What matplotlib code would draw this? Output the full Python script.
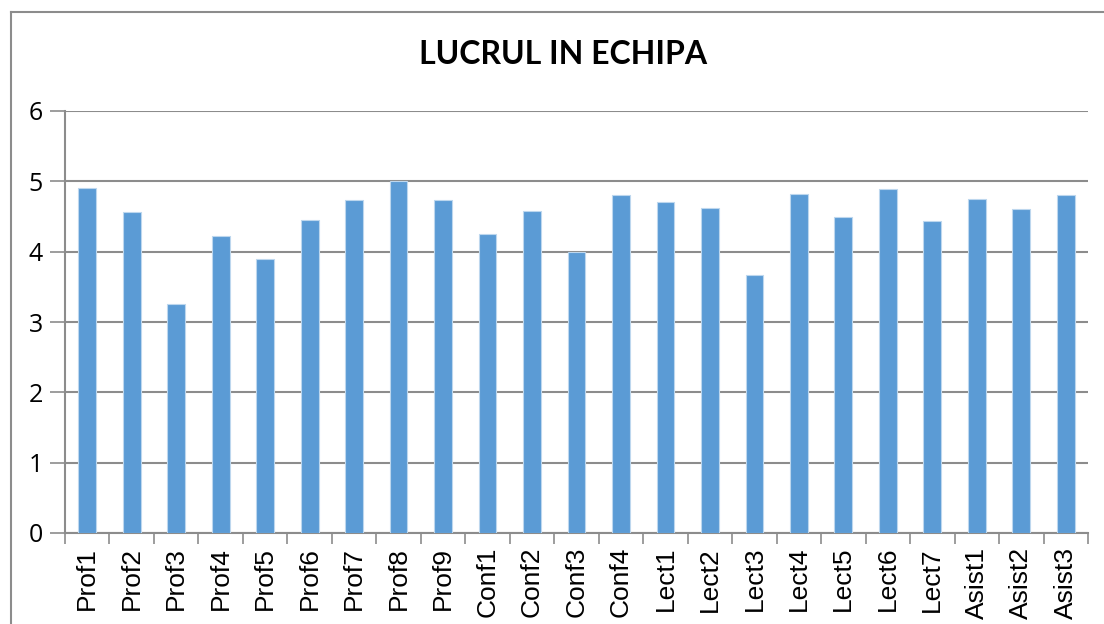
import numpy as np
import matplotlib.pyplot as plt
from matplotlib.lines import Line2D

# Categorii si valori
categorii = ['Prof1', 'Prof2', 'Prof3', 'Prof4', 'Prof5', 'Prof6', 'Prof7', 'Prof8', 'Prof9',
             'Conf1', 'Conf2', 'Conf3', 'Conf4',
             'Lect1', 'Lect2', 'Lect3', 'Lect4', 'Lect5', 'Lect6', 'Lect7',
             'Asist1', 'Asist2', 'Asist3']
valori = [4.9, 4.57, 3.25, 4.22, 3.9, 4.45, 4.73, 5.0, 4.73,
          4.25, 4.58, 4.0, 4.8,
          4.7, 4.62, 3.67, 4.82, 4.5, 4.89, 4.44,
          4.75, 4.6, 4.8]
y_ticks = [0, 1, 2, 3, 4, 5, 6]
titlu = 'LUCRUL IN ECHIPA'

W, H = 1104, 624
fig = plt.figure(figsize=(W / 100, H / 100), dpi=100)
ax = fig.add_axes([65 / W, 1 - 533 / H, (1088 - 65) / W, (533 - 111) / H])

x = np.arange(len(categorii))
ax.bar(x, valori, width=0.4, color='#5B9BD5', edgecolor='#BDD7EE', linewidth=0.8, zorder=3)

ax.set_xlim(-0.5, len(categorii) - 0.5)
ax.set_ylim(0, 6)
ax.set_yticks(y_ticks)
ax.yaxis.grid(True, color='#8C8C8C', linewidth=1.5, zorder=0)
ax.set_axisbelow(True)

ax.set_xticks(x)
ax.set_xticklabels(categorii, rotation=90, fontsize=19, family='Liberation Sans')
ax.tick_params(axis='x', which='major', length=0, pad=10)
ax.set_xticks(np.arange(-0.5, len(categorii), 1), minor=True)
ax.tick_params(axis='x', which='minor', length=8, width=1.2, color='#8C8C8C')
ax.tick_params(axis='y', length=11, width=1.2, color='#8C8C8C', pad=5)
for lbl in ax.get_yticklabels():
    lbl.set_fontsize(18)
    lbl.set_family('Open Sans')

for s in ['top', 'right']:
    ax.spines[s].set_visible(False)
for s in ['left', 'bottom']:
    ax.spines[s].set_color('#8C8C8C')
    ax.spines[s].set_linewidth(1.5)

fig.text(563.5 / W, 1 - 55 / H, titlu, ha='center', va='center',
         fontsize=23, fontweight='bold', family='Lato')

# chenarul graficului
fig.add_artist(Line2D([10.5 / W, 10.5 / W], [0, 1 - 11.5 / H], transform=fig.transFigure,
                      color='#8C8C8C', linewidth=1.5))
fig.add_artist(Line2D([10.5 / W, 1], [1 - 11.5 / H, 1 - 11.5 / H], transform=fig.transFigure,
                      color='#8C8C8C', linewidth=1.5))

fig.savefig('out.png', dpi=100)
